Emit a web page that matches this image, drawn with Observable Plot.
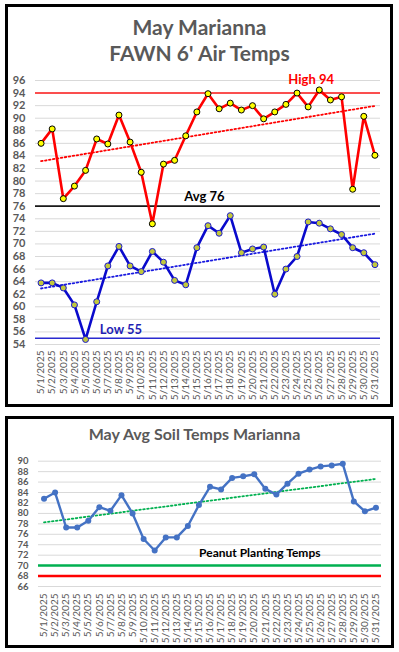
<!DOCTYPE html>
<html>
<head>
<meta charset="utf-8">
<script src="https://cdn.jsdelivr.net/npm/d3@7"></script>
<script src="https://cdn.jsdelivr.net/npm/@observablehq/plot@0.6"></script>
<style>
  html, body { margin: 0; padding: 0; background: #fff; }
  body { width: 399px; height: 652px; position: relative; overflow: hidden; font-family: Lato, "Open Sans", sans-serif; }
  .box { position: absolute; border: 3px solid #000; box-sizing: border-box; background: #fff; }
  .title { position: absolute; color: #595959; font-weight: bold; text-align: center; white-space: nowrap; }
  .chart { position: absolute; left: 0; }
</style>
</head>
<body>
<div class="box" style="left:5px;top:4px;width:388px;height:403px;"></div>
<div class="box" style="left:5px;top:416px;width:389px;height:232px;"></div>
<div class="title" style="left:0;width:399px;top:14px;font-size:21px;line-height:26px;">May Marianna<br>FAWN 6' Air Temps</div>
<div class="title" style="left:0;width:389px;top:424px;font-size:16px;line-height:20px;">May Avg Soil Temps Marianna</div>
<div id="top" class="chart" style="top:60px;"></div>
<div id="bottom" class="chart" style="top:440px;"></div>
<script>
const dates = ["5/1/2025","5/2/2025","5/3/2025","5/4/2025","5/5/2025","5/6/2025","5/7/2025","5/8/2025","5/9/2025","5/10/2025","5/11/2025","5/12/2025","5/13/2025","5/14/2025","5/15/2025","5/16/2025","5/17/2025","5/18/2025","5/19/2025","5/20/2025","5/21/2025","5/22/2025","5/23/2025","5/24/2025","5/25/2025","5/26/2025","5/27/2025","5/28/2025","5/29/2025","5/30/2025","5/31/2025"];
const highTemps = [86.0,88.3,77.2,79.2,81.7,86.7,85.9,90.5,86.2,81.4,73.2,82.7,83.3,87.2,91.0,93.9,91.5,92.4,91.3,92.0,89.9,91.0,92.2,94.0,91.8,94.5,92.9,93.4,78.7,90.3,84.1];
const lowTemps = [63.8,63.8,63.0,60.3,54.8,60.8,66.5,69.6,66.5,65.6,68.8,67.1,64.2,63.5,69.4,72.9,71.7,74.5,68.6,69.2,69.5,62.0,66.0,68.0,73.5,73.3,72.4,71.5,69.4,68.6,66.7];
const soilTemps = [82.8,84.0,77.3,77.3,78.6,81.2,80.5,83.5,80.0,75.1,72.9,75.4,75.4,77.6,81.6,85.1,84.6,86.8,87.1,87.5,84.7,83.6,85.7,87.6,88.4,89.0,89.2,89.5,82.3,80.4,81.1];
const airRefValues = [94, 76, 55];
const airRefLabels = ["High 94", "Avg 76", "Low 55"];
const peanutValues = [70, 68];
const peanutLabel = "Peanut Planting Temps";
const airTicks = d3.range(54, 97, 2);
const soilTicks = d3.range(66, 91, 2);

const days = dates.map((d, i) => i + 1);
const air = days.map((d, i) => ({day: d, high: highTemps[i], low: lowTemps[i]}));
const soil = days.map((d, i) => ({day: d, v: soilTemps[i]}));
const fmt = d => dates[d - 1];
const FONT = "Lato, 'Open Sans', sans-serif";
const DOTS = "1.6,2.4";

const topChart = Plot.plot({
  width: 399, height: 340,
  marginTop: 20, marginBottom: 56, marginLeft: 35, marginRight: 19,
  style: {fontFamily: FONT, background: "transparent", overflow: "visible"},
  x: {type: "linear", domain: [0.5, 31.5], axis: null},
  y: {domain: [54, 96], axis: null},
  marks: [
    Plot.ruleY(airTicks, {stroke: "#d9d9d9", strokeWidth: 1}),
    Plot.axisY(airTicks, {label: null, tickSize: 0, tickPadding: 10, fontSize: 11, fontWeight: "bold", fill: "#595959"}),
    Plot.axisX(days, {label: null, tickSize: 0, tickPadding: 6, tickRotate: -90, tickFormat: fmt, fontSize: 10, fill: "#595959"}),
    Plot.ruleY([airRefValues[0]], {stroke: "#ff1a1a", strokeWidth: 1.5}),
    Plot.ruleY([airRefValues[1]], {stroke: "#1a1a1a", strokeWidth: 1.8}),
    Plot.ruleY([airRefValues[2]], {stroke: "#2a2ad0", strokeWidth: 1.5}),
    Plot.linearRegressionY(air, {x: "day", y: "high", ci: 0, stroke: "#ff0000", strokeWidth: 1.8, strokeDasharray: DOTS}),
    Plot.linearRegressionY(air, {x: "day", y: "low", ci: 0, stroke: "#1a1ae0", strokeWidth: 1.8, strokeDasharray: DOTS}),
    Plot.line(air, {x: "day", y: "high", stroke: "#ff0000", strokeWidth: 2.6}),
    Plot.line(air, {x: "day", y: "low", stroke: "#0a0acc", strokeWidth: 2.6}),
    Plot.dot(air, {x: "day", y: "high", r: 3, fill: "#ffff00", stroke: "#000", strokeWidth: 1}),
    Plot.dot(air, {x: "day", y: "low", r: 3, fill: "#c2c83c", stroke: "#1a1acc", strokeWidth: 1}),
    Plot.text([airRefLabels[0]], {x: 25, y: airRefValues[0], dx: 3, dy: -13.5, text: d => d, fill: "#ff0000", fontSize: 13, fontWeight: "bold"}),
    Plot.text([airRefLabels[1]], {x: 16, y: airRefValues[1], dx: -3.5, dy: -9, text: d => d, fill: "#000", fontSize: 13, fontWeight: "bold"}),
    Plot.text([airRefLabels[2]], {x: 8, y: airRefValues[2], dx: 2, dy: -8, text: d => d, fill: "#1f1fb4", fontSize: 13, fontWeight: "bold"})
  ]
});
document.getElementById("top").appendChild(topChart);

const bottomChart = Plot.plot({
  width: 399, height: 200,
  marginTop: 20.7, marginBottom: 54, marginLeft: 38, marginRight: 18,
  style: {fontFamily: FONT, background: "transparent", overflow: "visible"},
  x: {type: "linear", domain: [0.5, 31.5], axis: null},
  y: {domain: [66, 90], axis: null},
  marks: [
    Plot.ruleY(soilTicks, {stroke: "#d9d9d9", strokeWidth: 1}),
    Plot.axisY(soilTicks, {label: null, tickSize: 0, tickPadding: 10, fontSize: 9.5, fontWeight: "bold", fill: "#595959"}),
    Plot.axisX(days, {label: null, tickSize: 0, tickPadding: 7, tickRotate: -90, tickFormat: fmt, fontSize: 10, fill: "#595959"}),
    Plot.ruleY([peanutValues[0]], {stroke: "#00b050", strokeWidth: 2.5}),
    Plot.ruleY([peanutValues[1]], {stroke: "#ff0000", strokeWidth: 2.5}),
    Plot.linearRegressionY(soil, {x: "day", y: "v", ci: 0, stroke: "#00b050", strokeWidth: 1.8, strokeDasharray: DOTS}),
    Plot.line(soil, {x: "day", y: "v", stroke: "#4472c4", strokeWidth: 2.4}),
    Plot.dot(soil, {x: "day", y: "v", r: 3, fill: "#4472c4"}),
    Plot.text([peanutLabel], {x: 20.5, y: peanutValues[0], dy: -12, text: d => d, fill: "#000", fontSize: 12, fontWeight: "bold"})
  ]
});
document.getElementById("bottom").appendChild(bottomChart);
</script>
</body>
</html>
